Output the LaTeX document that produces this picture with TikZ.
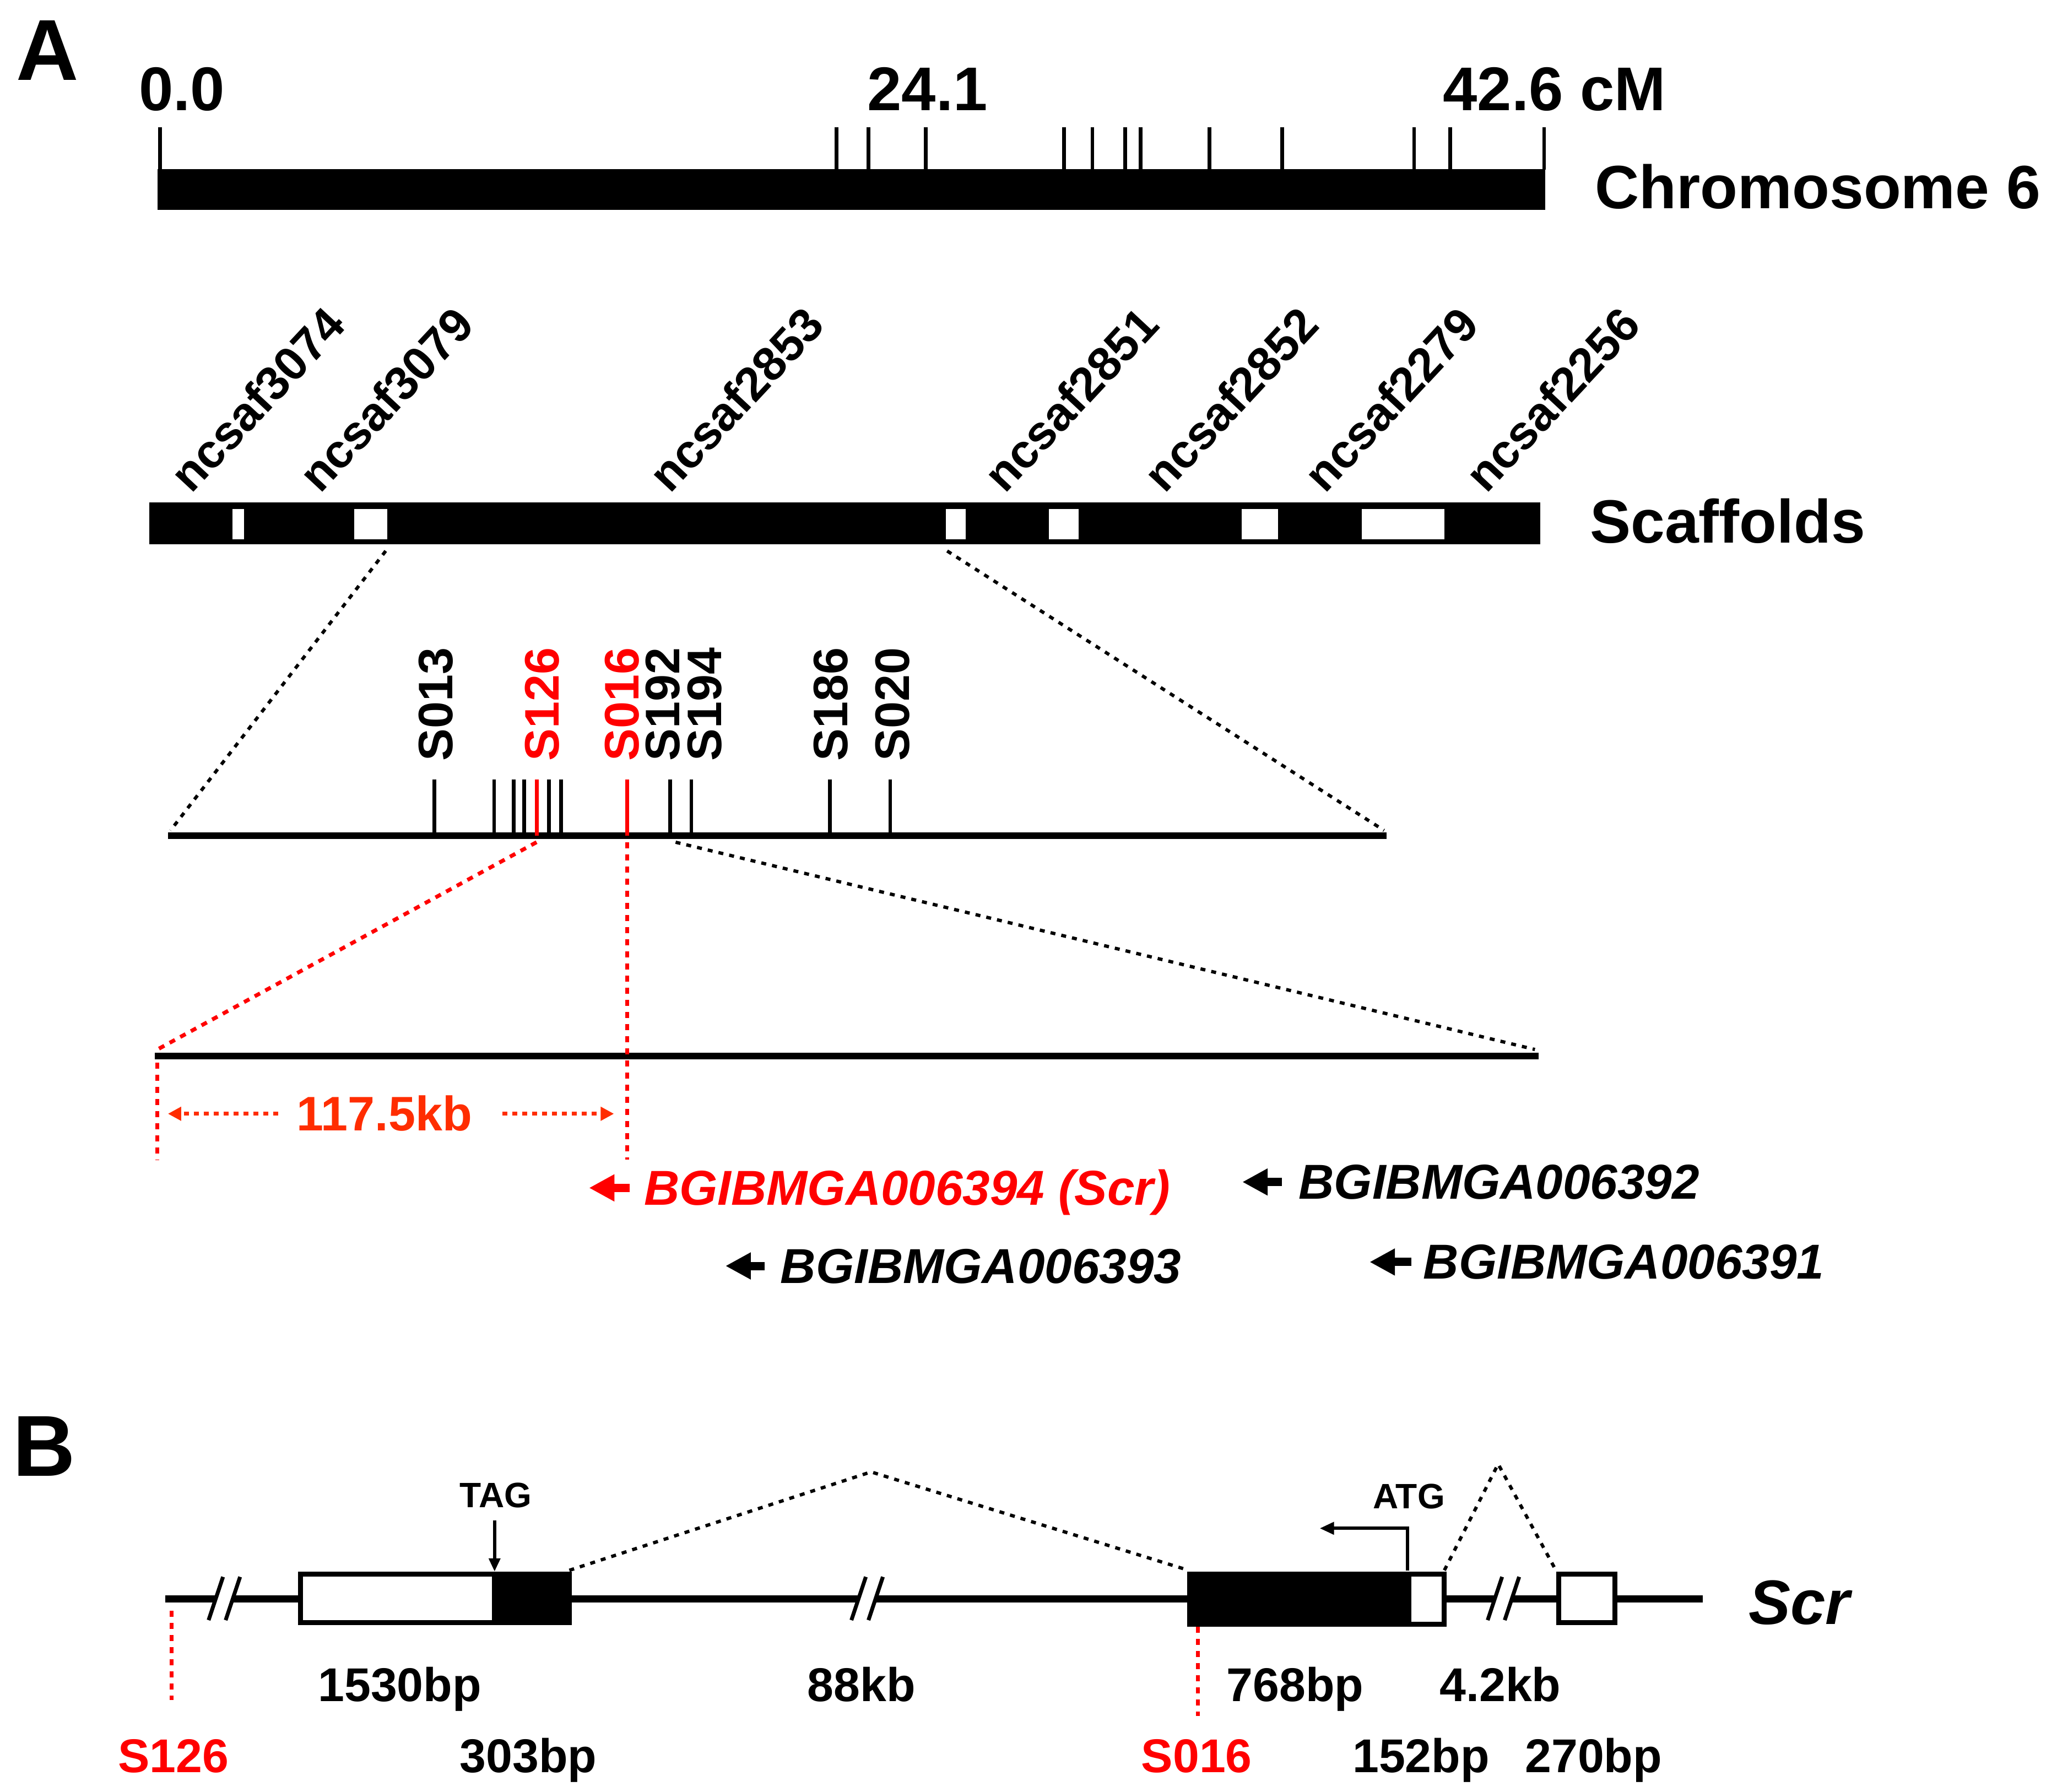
\documentclass[tikz,border=0pt]{standalone}
\usepackage{fontspec}
\setmainfont{Liberation Sans}
\usetikzlibrary{arrows.meta}
\definecolor{mred}{RGB}{255,0,0}
\definecolor{morange}{RGB}{255,45,0}
\newcommand{\fsz}[1]{\fontsize{#1pt}{#1pt}\selectfont}
\begin{document}
\begin{tikzpicture}[x=2.381pt,y=-2.381pt,
  txt/.style={inner sep=0pt,outer sep=0pt,anchor=base west},
  ctxt/.style={inner sep=0pt,outer sep=0pt,anchor=base},
  big/.style={font=\bfseries\fsz{157}},
  scalef/.style={font=\bfseries\fsz{112}},
  rowf/.style={font=\bfseries\fsz{111}},
  scaff/.style={txt,rotate=47,font=\bfseries\fsz{86}},
  mk/.style={txt,rotate=90,font=\bfseries\fsz{88}},
  gene/.style={txt,font=\bfseries\itshape\fsz{89}},
  sz/.style={txt,font=\bfseries\fsz{86}},
  smallf/.style={ctxt,font=\bfseries\fsz{64}},
  tickl/.style={line width=6.5pt},
  dotl/.style={line width=6pt,dash pattern=on 9pt off 11pt},
  rdotl/.style={line width=7pt,mred,dash pattern=on 11pt off 11pt},
  thick line/.style={line width=12pt},
  garr/.style={line width=15pt,-{Triangle[length=46pt,width=46pt]}},
  exon/.style={line width=9pt,draw=black,fill=white},
  brk/.style={line width=7pt},
  gline/.style={line width=13pt},
]
\useasboundingbox (0,0) rectangle (1568,1366);

% ---------------- Panel A ----------------
\node[txt,big] (labA) at (12.5,61) {A};
\node[txt,scalef] (s0) at (106,84) {0.0};
\node[ctxt,scalef] (s24) at (707,84) {24.1};
\node[txt,scalef] (s42) at (1100,84) {42.6 cM};

% chromosome bar
\fill (120,129) rectangle (1178,160);
\foreach \x in {122,637.6,662,705.6,811,832.6,857.6,869.4,922,977.3,1078,1105.5,1177}
  \draw[tickl] (\x,97) -- (\x,129.5);
\node[txt,rowf] (chr) at (1216,159) {Chromosome 6};

% scaffolds bar
\fill (114,383) rectangle (1174,415);
\foreach \a/\b in {177/186,270/295,721/736,799.5/822,946.6/974.4,1038/1101}
  \fill[white] (\a,388) rectangle (\b,411);
\node[txt,rowf] (scf) at (1212,414) {Scaffolds};
\foreach \x/\t in {146/3074,244/3079,511/2853,766/2851,888/2852,1010/2279,1133/2256}
  \node[scaff] (n\t) at (\x,377) {ncsaf\t};

% markers line
\coordinate (mL) at (128,637);
\coordinate (mR) at (1057,637);
\draw[thick line] (mL) -- (mR);
\foreach \x in {331.2,376.7,391.6,399.6,418.5,427.7,510.9,527,632.7,678.5}
  \draw[tickl] (\x,594) -- (\x,637);
\foreach \x in {409.2,478}
  \draw[tickl,mred] (\x,594) -- (\x,637);
\node[mk] (m013) at (345,580) {S013};
\node[mk,text=mred] (m126) at (426,580) {S126};
\node[mk,text=mred] (m016) at (487,580) {S016};
\node[mk] (m192) at (518,580) {S192};
\node[mk] (m194) at (550,580) {S194};
\node[mk] (m186) at (646,580) {S186};
\node[mk] (m020) at (693,580) {S020};

% zoom lines from scaffolds
\coordinate (zL) at (294,420);
\coordinate (zR) at (722,420);
\draw[dotl] (zL) -- (130,633);
\draw[dotl] (zR) -- (1055,633);

% lower line
\coordinate (lL) at (118,805);
\coordinate (lR) at (1173,805);
\draw[thick line] (lL) -- (lR);
\draw[rdotl] (409,642) -- (120,800);
\draw[rdotl] (478,642) -- (478,884);
\draw[dotl] (515,642) -- (1170,800);
\draw[rdotl] (120,810) -- (120,884);

% 117.5kb
\node[ctxt,font=\bfseries\fsz{88},text=morange] (kb) at (293,862) {117.5kb};
\draw[line width=7pt,morange,dash pattern=on 9pt off 9pt,-{Triangle[length=24pt,width=24pt]}] (212,849) -- (128,849);
\draw[line width=7pt,morange,dash pattern=on 9pt off 9pt,-{Triangle[length=24pt,width=24pt]}] (383,849) -- (468,849);

% genes
\draw[garr,mred] (480,905.5) -- (449,905.5);
\node[gene,text=mred] (g94) at (491,918.5) {BGIBMGA006394 (Scr)};
\draw[garr] (977,901) -- (947,901);
\node[gene] (g92) at (990,914) {BGIBMGA006392};
\draw[garr] (583,965) -- (553,965);
\node[gene] (g93) at (595,978) {BGIBMGA006393};
\draw[garr] (1076,962) -- (1044,962);
\node[gene] (g91) at (1085,975) {BGIBMGA006391};

% ---------------- Panel B ----------------
\node[txt,big] (labB) at (10,1125) {B};

% gene line segments
\draw[gline] (126,1219) -- (164,1219);
\draw[gline] (178,1219) -- (229,1219);
\draw[gline] (434,1219) -- (654,1219);
\draw[gline] (668,1219) -- (907,1219);
\draw[gline] (1101,1219) -- (1139,1219);
\draw[gline] (1153,1219) -- (1188,1219);
\draw[gline] (1231,1219) -- (1298,1219);

% breaks
\foreach \c in {171,661,1146}{
  \draw[brk] (\c-12,1235) -- (\c-1,1202);
  \draw[brk] (\c+1,1235) -- (\c+12,1202);
}

% exons
\draw[exon] (229,1200) rectangle (377,1237);
\filldraw[line width=9pt] (377,1200) rectangle (434,1237);
\filldraw[line width=9pt] (907,1200) rectangle (1074,1238);
\draw[exon] (1074,1200) rectangle (1101,1238);
\draw[exon] (1188,1200) rectangle (1231,1237);

% TAG
\node[smallf] (tag) at (378,1149) {TAG};
\draw[line width=6pt,-{Triangle[length=24pt,width=20pt]}] (377,1159) -- (377,1198);
% ATG
\node[smallf] (atg) at (1074,1150) {ATG};
\draw[line width=6pt,-{Triangle[length=26pt,width=22pt]}] (1073,1197) -- (1073,1165) -- (1006,1165);

% splicing dotted
\draw[dotl] (434,1197) -- (664,1122) -- (906,1197);
\draw[dotl] (1101,1197) -- (1142,1116) -- (1186,1197);

\node[txt,font=\bfseries\itshape\fsz{114}] (scr) at (1333,1238) {Scr};

% red markers
\draw[rdotl] (131,1228) -- (131,1296);
\draw[rdotl] (913,1240) -- (913,1308);

% sizes
\node[sz] (b1530) at (242.5,1297) {1530bp};
\node[sz] (b88) at (615.5,1297) {88kb};
\node[sz] (b768) at (935,1297) {768bp};
\node[sz] (b42) at (1097.5,1297) {4.2kb};
\node[sz,text=mred] (r126) at (90,1351) {S126};
\node[sz] (b303) at (350.5,1351) {303bp};
\node[sz,text=mred] (r016) at (870,1351) {S016};
\node[sz] (b152) at (1031,1351) {152bp};
\node[sz] (b270) at (1162.5,1351) {270bp};
\end{tikzpicture}
\end{document}
